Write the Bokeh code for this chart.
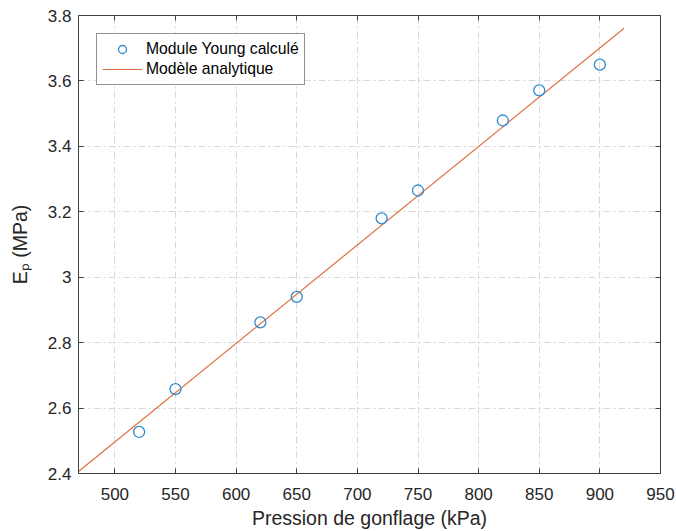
from bokeh.plotting import figure
from bokeh.models import LinearAxis, FixedTicker, Legend, LegendItem, Range1d
from bokeh.embed import file_html
from bokeh.resources import INLINE

# ---- data ----
pression = [520, 550, 620, 650, 720, 750, 820, 850, 900]
module_young = [2.527, 2.658, 2.862, 2.940, 3.180, 3.265, 3.479, 3.571, 3.650]
model_p = [470, 920]
model_e = [2.406, 3.761]
x_ticks = [500, 550, 600, 650, 700, 750, 800, 850, 900, 950]
y_ticks = [2.4, 2.6, 2.8, 3.0, 3.2, 3.4, 3.6, 3.8]
y_tick_labels = {2.4: "2.4", 2.6: "2.6", 2.8: "2.8", 3.0: "3", 3.2: "3.2", 3.4: "3.4", 3.6: "3.6", 3.8: "3.8"}

FONT = "Liberation Sans"
TXT = "#262626"
AX = "#404040"

X0, X1 = 470, 950
Y0, Y1 = 2.4, 3.8

p = figure(width=676, height=531, output_backend="svg", toolbar_location=None,
           x_range=Range1d(X0, X1), y_range=Range1d(Y0, Y1),
           min_border_left=78, min_border_right=16, min_border_top=15, min_border_bottom=58)
p.outline_line_color = None
p.background_fill_color = "white"
p.border_fill_color = "white"

# axes styling
for ax in [p.xaxis[0], p.yaxis[0]]:
    ax.major_tick_in = 5
    ax.major_tick_out = 0
    ax.minor_tick_line_color = None
    ax.axis_line_color = AX
    ax.major_tick_line_color = AX
    ax.major_label_text_font = FONT
    ax.major_label_text_font_size = "17px"
    ax.major_label_text_color = TXT
    ax.axis_label_text_font = FONT
    ax.axis_label_text_font_size = "19.5px"
    ax.axis_label_text_font_style = "normal"
    ax.axis_label_text_color = TXT
p.xaxis[0].ticker = FixedTicker(ticks=x_ticks)
p.yaxis[0].ticker = FixedTicker(ticks=y_ticks)
p.yaxis[0].major_label_overrides = y_tick_labels
p.xaxis[0].major_label_standoff = 14
p.yaxis[0].major_label_standoff = 7
p.xaxis[0].axis_label = "Pression de gonflage (kPa)"
p.xaxis[0].axis_label_standoff = 4
p.yaxis[0].axis_label = "E\u209a (MPa)"
p.yaxis[0].axis_label_standoff = 14

# box axes (top / right) with ticks only
box_kw = dict(major_label_text_font_size="1px", major_label_text_color=None,
              major_tick_in=5, major_tick_out=0, minor_tick_line_color=None,
              axis_line_color=AX, major_tick_line_color=AX, major_label_standoff=0)
top = LinearAxis(ticker=FixedTicker(ticks=x_ticks), **box_kw)
right = LinearAxis(ticker=FixedTicker(ticks=y_ticks), **box_kw)
p.add_layout(top, "above")
p.add_layout(right, "right")

# grid
for g in [p.xgrid[0], p.ygrid[0]]:
    g.grid_line_color = "#d9d9d9"
    g.grid_line_dash = "7 3 2 3"
    g.grid_line_width = 1
p.xgrid[0].ticker = FixedTicker(ticks=x_ticks)
p.ygrid[0].ticker = FixedTicker(ticks=y_ticks)

# glyphs
r_line = p.line(model_p, model_e, line_color="#e07040", line_width=1.2)
r_pts = p.scatter(pression, module_young, marker="circle", size=11, fill_color=None,
                  line_color="#2f8bd0", line_width=1.3)

legend = Legend(items=[LegendItem(label="Module Young calculé", renderers=[r_pts]),
                       LegendItem(label="Modèle analytique", renderers=[r_line])],
                location="top_left", margin=18, padding=5, spacing=0,
                glyph_width=40, glyph_height=20, label_height=20, label_standoff=4,
                label_text_font=FONT, label_text_font_size="15.7px", label_text_color="black",
                border_line_color=TXT, border_line_width=1, background_fill_color="white",
                background_fill_alpha=1)
p.add_layout(legend)

open("out.html", "w").write(file_html(p, INLINE))
